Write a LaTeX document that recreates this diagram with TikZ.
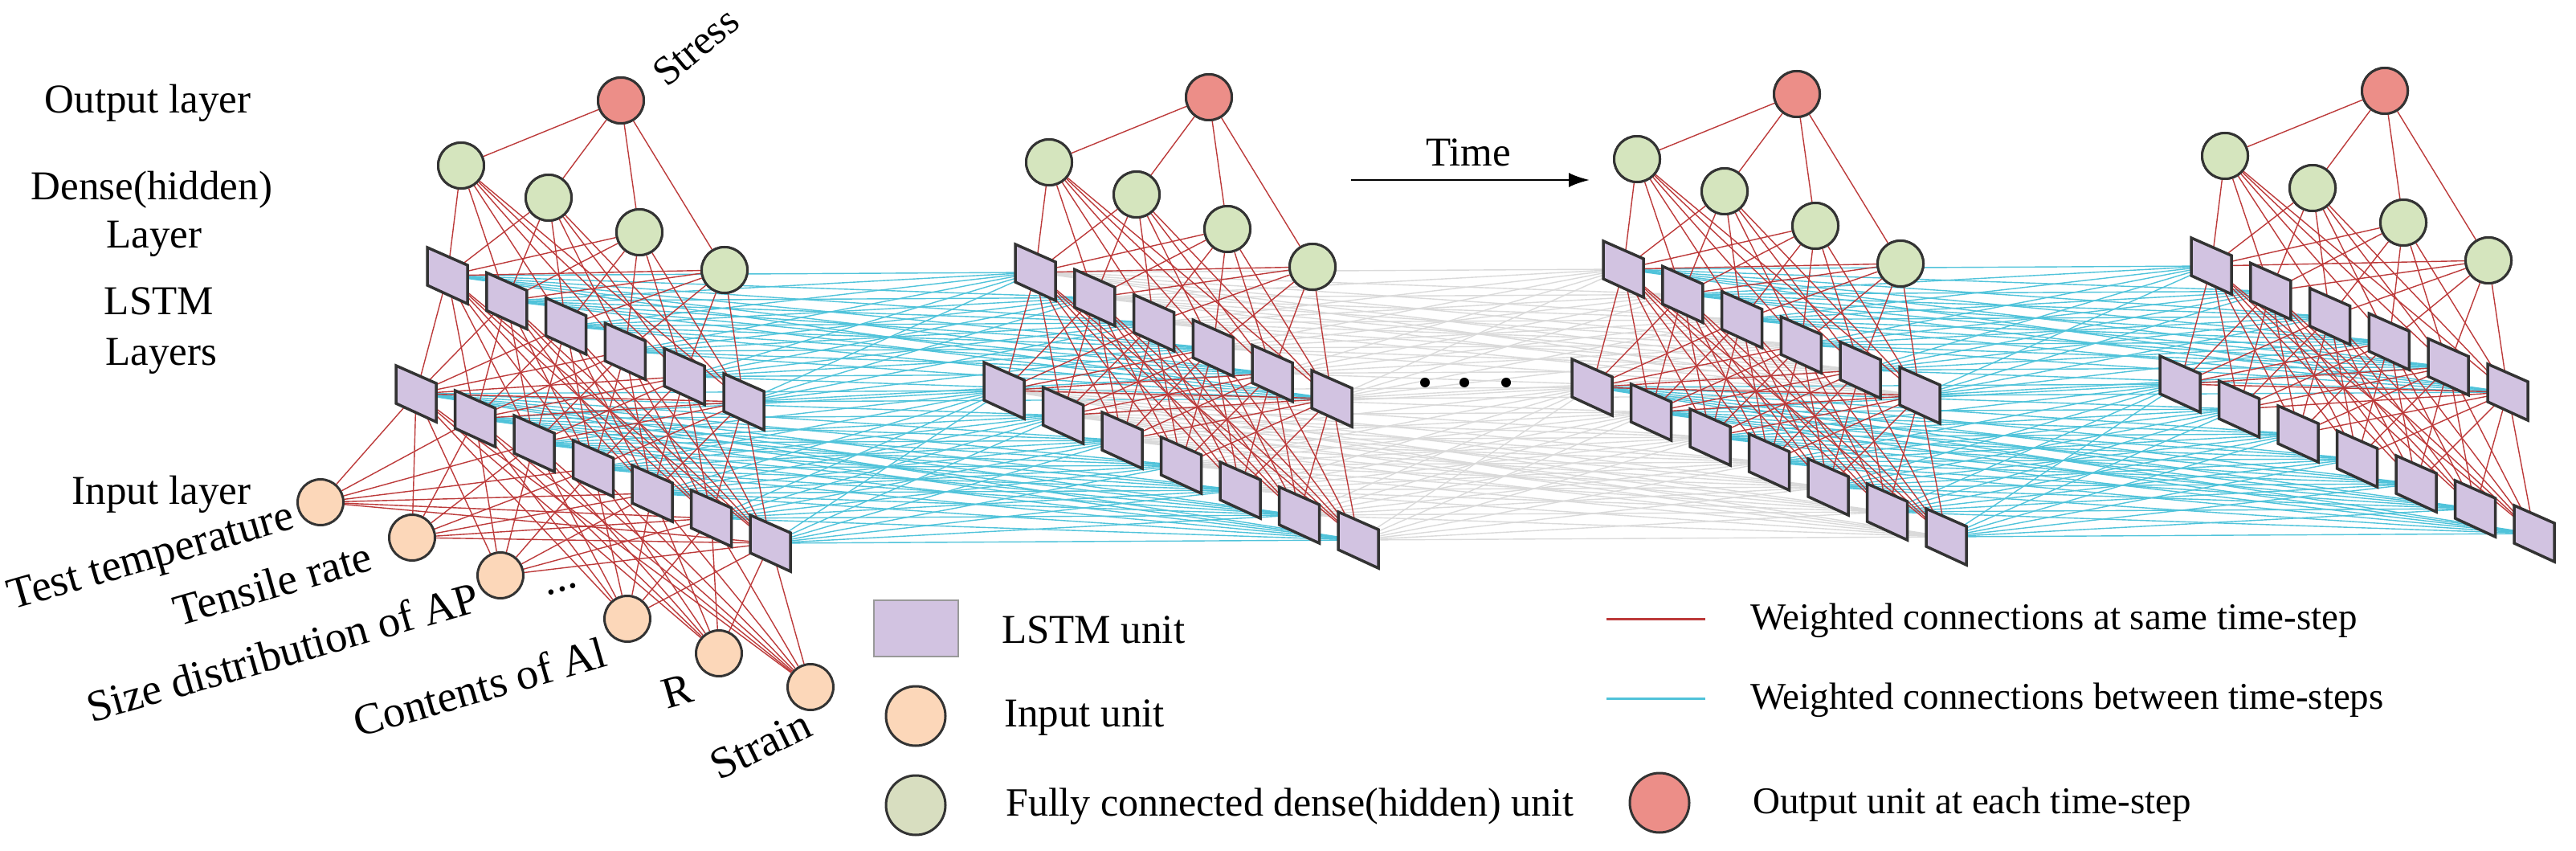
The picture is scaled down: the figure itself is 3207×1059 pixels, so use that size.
\documentclass[tikz,border=0pt]{standalone}
\usepackage{fontspec}
\setmainfont{Liberation Serif}
\usetikzlibrary{arrows.meta}
\definecolor{redfill}{RGB}{236,142,136}
\definecolor{greenfill}{RGB}{213,229,190}
\definecolor{legreen}{RGB}{216,222,192}
\definecolor{infill}{RGB}{252,215,185}
\definecolor{lstmfill}{RGB}{210,195,225}
\definecolor{redline}{RGB}{188,58,58}
\definecolor{blueline}{RGB}{80,195,218}
\definecolor{grayline}{RGB}{218,218,218}
\pgfdeclarelayer{edges}
\pgfsetlayers{edges,main}
\begin{document}
\begin{tikzpicture}[x=1pt,y=-1pt,
  every node/.style={font=\fontsize{51}{60}\selectfont},
  unit/.style={circle,draw=black!80,line width=3pt,minimum size=57pt,inner sep=0pt},
  outu/.style={unit,fill=redfill},
  denseu/.style={unit,fill=greenfill},
  inu/.style={unit,fill=infill},
  lstm/.style={draw=black!80,line width=3.5pt,fill=lstmfill,line join=miter},
  red/.style={draw=redline,line width=1.4pt},
  blue/.style={draw=blueline,line width=1.4pt},
  gray/.style={draw=grayline,line width=1.4pt},
  lab/.style={inner sep=0pt},
  inlab/.style={inner sep=0pt,rotate=16,font=\fontsize{55}{64}\selectfont},
  leglab/.style={inner sep=0pt,anchor=west,font=\fontsize{47}{56}\selectfont}]
\useasboundingbox (0,0) rectangle (3207,1059);

% left labels
\node[lab] (lo) at (184,128) {Output layer};
\node[lab] (ld) at (189,236) {Dense(hidden)};
\node[lab] (ldl) at (192,297) {Layer};
\node[lab] (ll) at (198,375) {LSTM};
\node[lab] (lls) at (201,443) {Layers};
\node[lab] (li) at (201,615) {Input layer};

% blocks
\foreach \k in {0,...,3}{
  \pgfmathsetmacro\dx{732*\k}
  \pgfmathsetmacro\dy{-4*\k}
  \foreach \i in {0,...,5}
    \coordinate (t\k-\i) at (557+\dx+73.8*\i, 343+\dy+31.4*\i);
  \foreach \i in {0,...,6}
    \coordinate (b\k-\i) at (518+\dx+73.5*\i, 490+\dy+31*\i);
  \node[outu] (o\k) at (773+\dx,125+\dy) {};
  \foreach \gx/\gy [count=\j from 0] in {574/206,683/246,796/289,902/336}
    \node[denseu] (g\k-\j) at (\gx+\dx,\gy+\dy) {};
}

% inputs
\foreach \ix/\iy [count=\j from 0] in {399/625,513/669,623/716,781/770,895/813,1009/855}
  \node[inu] (in\j) at (\ix,\iy) {};

% edges
\begin{pgfonlayer}{edges}
\foreach \p/\q/\s in {0/1/blue,1/2/gray,2/3/blue}{
  \foreach \i in {0,...,5}\foreach \j in {0,...,5}
    \draw[\s] (t\p-\i) -- (t\q-\j);
  \foreach \i in {0,...,6}\foreach \j in {0,...,6}
    \draw[\s] (b\p-\i) -- (b\q-\j);
}
\foreach \k in {0,...,3}{
  \foreach \j in {0,...,3}{
    \draw[red] (o\k) -- (g\k-\j);
    \foreach \i in {0,...,5} \draw[red] (g\k-\j) -- (t\k-\i);
  }
  \foreach \i in {0,...,5}\foreach \j in {0,...,6}
    \draw[red] (t\k-\i) -- (b\k-\j);
}
\foreach \i in {0,...,5}\foreach \j in {0,...,6}
  \draw[red] (in\i) -- (b0-\j);
\end{pgfonlayer}

% LSTM units
\foreach \k in {0,...,3}{
  \foreach \i in {0,...,5}
    \draw[lstm] (t\k-\i) ++(-25,-35) -- ++(50,22) -- ++(0,48) -- ++(-50,-23) -- cycle;
  \foreach \i in {0,...,6}
    \draw[lstm] (b\k-\i) ++(-25,-35) -- ++(50,22) -- ++(0,48) -- ++(-50,-23) -- cycle;
}
% redraw dense/output circles above
\foreach \k in {0,...,3}{
  \node[outu] at (o\k) {};
  \foreach \j in {0,...,3} \node[denseu] at (g\k-\j) {};
}

% input labels
\node[lab,rotate=40] (ls) at (866,58) {Stress};
\node[inlab] (l1) at (189,696) {Test temperature};
\node[inlab] (l2) at (339,726) {Tensile rate};
\node[inlab] (l3) at (352,811) {Size distribution of AP};
\node[inlab] (l4) at (700,733) {...};
\node[inlab] (l5) at (597,855) {Contents of Al};
\node[inlab] (l6) at (843,860) {R};
\node[inlab,rotate=10] (l7) at (947,927) {Strain};

% time arrow and dots
\coordinate (ta) at (1682,224);
\coordinate (tb) at (1979,224);
\draw[line width=2.5pt,-{Latex[length=26pt,width=18pt]}] (ta) -- (tb);
\node[lab] (time) at (1828,190) {Time};
\foreach \x [count=\j] in {1774,1823,1875}
  \fill (\x,476) circle (6pt);

% legend
\draw[draw=black!40,line width=2pt,fill=lstmfill] (1088,747) rectangle (1193,817);
\node[lab,anchor=west] (t1) at (1247,784) {LSTM unit};
\node[inu,minimum size=74pt] (lg1) at (1140,891) {};
\node[lab,anchor=west] (t2) at (1250,893) {Input unit};
\node[unit,fill=legreen,minimum size=74pt] (lg2) at (1140,1002) {};
\node[lab,anchor=west,font=\fontsize{50}{60}\selectfont] (t3) at (1252,1004) {Fully connected dense(hidden) unit};
\node[outu,minimum size=74pt] (lg3) at (2066,999) {};
\node[leglab] (t4) at (2182,1001) {Output unit at each time-step};
\coordinate (r1) at (2000,770); \coordinate (r2) at (2123,770);
\draw[redline,line width=3pt] (r1) -- (r2);
\node[leglab] (t5) at (2179,772) {Weighted connections at same time-step};
\coordinate (c1) at (2000,869); \coordinate (c2) at (2123,869);
\draw[blueline,line width=3pt] (c1) -- (c2);
\node[leglab] (t6) at (2179,871) {Weighted connections between time-steps};
\end{tikzpicture}
\end{document}
